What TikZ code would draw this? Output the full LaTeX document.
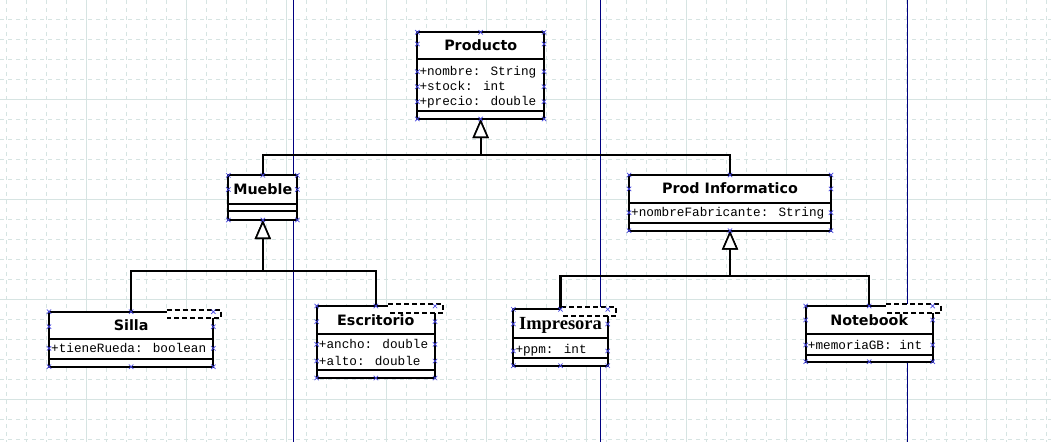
\documentclass[tikz,border=0pt]{standalone}
\usepackage{fontspec}
\setmainfont{DejaVu Sans}
\newfontfamily\dejavu{DejaVu Sans}
\newfontfamily\libmono{Liberation Mono}
\newfontfamily\libserif{Liberation Serif}
\usetikzlibrary{arrows.meta,calc}
\definecolor{gridc}{RGB}{214,228,226}
\definecolor{guidec}{RGB}{0,0,128}
\definecolor{handlec}{RGB}{70,70,225}
\tikzset{
  classbox/.style={draw=black, line width=2.2pt, fill=white, rectangle, inner sep=0pt, outer sep=0pt},
  sepline/.style={line width=2.2pt},
  titletext/.style={font=\dejavu\bfseries\fontsize{14.3pt}{16pt}\selectfont, inner sep=0pt, text height=10.4pt, text depth=0pt},
  attr/.style={font=\libmono\fontsize{12.7pt}{14pt}\selectfont, anchor=west, inner sep=0pt, text height=8pt, text depth=0pt},
  gen/.style={line width=2.2pt, -{Triangle[length=19pt,width=16pt,fill=white,line width=1.6pt]}},
  tmpl/.style={line width=2.2pt, dash pattern=on 5pt off 3pt},
  handle/.style={draw=handlec, line width=0.7pt},
  guide/.style={draw=guidec, line width=1pt},
  gmin/.style={draw=gridc, line width=1pt, dash pattern=on 4pt off 4pt},
  gmaj/.style={draw=gridc, line width=1pt},
  hx/.pic={\draw[handle] (-2.2,-2.2) -- (2.2,2.2) (-2.2,2.2) -- (2.2,-2.2);}
}
% #1 id, #2 L, #3 T, #4 R, #5 header bottom, #6 attr bottom, #7 B
\newcommand\umlclass[7]{%
  \node[classbox, minimum width={#4-#2}, minimum height={#7-#3}] (#1) at ({(#2+#4)/2},{(#3+#7)/2}) {};
  \draw[sepline] (#2,#5) -- (#4,#5);
  \draw[sepline] (#2,#6) -- (#4,#6);
}
% template box: L T R B
\newcommand\tmplbox[4]{%
  \fill[white] (#1,#2) rectangle (#3,#4);
  \draw[tmpl] (#1,#2) -- (#3,#2) -- (#3,#4) -- (#1,#4);
}
% handles: L T R B {ys}
\newcommand\handles[5]{%
  \foreach \hy in {#2,#4,#5} { \pic at (#1,\hy) {hx}; \pic at (#3,\hy) {hx}; }
  \pic at ({(#1+#3)/2},#2) {hx};
  \pic at ({(#1+#3)/2},#4) {hx};
}
\begin{document}
\begin{tikzpicture}[x=1pt,y=-1pt]
\useasboundingbox (0,0) rectangle (1051,442);
\fill[white] (0,0) rectangle (1051,442);
% grid
\foreach \i in {0,...,52} {
  \pgfmathsetmacro\gx{6.67+20*\i}
  \pgfmathtruncatemacro\gm{mod(\i,5)}
  \ifnum\gm=4 \draw[gmaj] (\gx,0) -- (\gx,442); \else \draw[gmin] (\gx,0) -- (\gx,442); \fi
}
\foreach \j in {0,...,21} {
  \pgfmathsetmacro\gy{19.3+20*\j}
  \pgfmathtruncatemacro\gm{mod(\j,5)}
  \ifnum\gm=4 \draw[gmaj] (0,\gy) -- (1051,\gy); \else \draw[gmin] (0,\gy) -- (1051,\gy); \fi
}
% guide lines
\draw[guide] (293.3,0) -- (293.3,442);
\draw[guide] (600.3,0) -- (600.3,442);
\draw[guide] (907.3,0) -- (907.3,442);

% classes
\umlclass{producto}{417.3}{32.3}{544}{59.3}{110.7}{119}
\umlclass{mueble}{228.3}{175.3}{297.3}{203.7}{211}{220}
\umlclass{prodinf}{629}{175}{831}{202.7}{222.7}{230.7}
\umlclass{silla}{49}{311.7}{213.3}{339.3}{359.3}{366.7}
\umlclass{escritorio}{316.7}{306}{435}{334.3}{370}{378}
\umlclass{impresora}{513.3}{309.3}{607.7}{337.7}{357.7}{365.7}
\umlclass{notebook}{805.7}{306}{932.7}{334.3}{355}{361.7}

% generalizations
\draw[gen] (mueble.north) |- ($(producto.south)+(0,36.3)$) -- (producto.south);
\draw[gen] (prodinf.north) |- ($(producto.south)+(0,36.3)$) -- (producto.south);
\draw[gen] (silla.north) |- ($(mueble.south)+(0,51)$) -- (mueble.south);
\draw[gen] (escritorio.north) |- ($(mueble.south)+(0,51)$) -- (mueble.south);
\draw[gen] (impresora.north) |- ($(prodinf.south)+(0,45.3)$) -- (prodinf.south);
\draw[gen] (notebook.north) |- ($(prodinf.south)+(0,45.3)$) -- (prodinf.south);

% template boxes
\tmplbox{166.7}{310}{221}{317.7}
\tmplbox{388.3}{304.3}{443.3}{312.7}
\tmplbox{561}{307.3}{616}{316}
\tmplbox{886}{304.3}{940.7}{313.3}

% titles
\node[titletext] (producto-t) at (480.7,45.5) {Producto};
\node[titletext] (mueble-t) at (262.8,189.3) {Mueble};
\node[titletext] (prodinf-t) at (730,188.6) {Prod Informatico};
\node[titletext] (silla-t) at (131.2,325.3) {Silla};
\node[titletext] (escritorio-t) at (375.8,320) {Escritorio};
\node[titletext, font=\libserif\bfseries\fontsize{18.5pt}{20pt}\selectfont, text height=12.2pt] (impresora-t) at (560.5,323.5) {Impresora};
\node[titletext] (notebook-t) at (869.2,320) {Notebook};

% attributes
\node[attr] (producto-a1) at (419.3,71.7) {+nombre: String};
\node[attr] (producto-a2) at (419.3,86.7) {+stock: int};
\node[attr] (producto-a3) at (419.3,101.7) {+precio: double};
\node[attr] (prodinf-a1) at (631,212.7) {+nombreFabricante: String};
\node[attr] (silla-a1) at (51,348.5) {+tieneRueda: boolean};
\node[attr] (escritorio-a1) at (318.7,344.3) {+ancho: double};
\node[attr] (escritorio-a2) at (318.7,361) {+alto: double};
\node[attr] (impresora-a1) at (515.3,349) {+ppm: int};
\node[attr] (notebook-a1) at (807.7,345) {+memoriaGB: int};

% selection handles
\handles{417.3}{32.3}{544}{119}{44,71.7,86.7,101.7}
\handles{228.3}{175.3}{297.3}{220}{189.5}
\handles{629}{175}{831}{230.7}{188.9,212.7}
\handles{49}{311.7}{213.3}{366.7}{326.7,348.3}
\handles{316.7}{306}{435}{378}{321.7,344.3,361}
\handles{513.3}{309.3}{607.7}{365.7}{324,351}
\handles{805.7}{306}{932.7}{361.7}{320,345}
\end{tikzpicture}
\end{document}
